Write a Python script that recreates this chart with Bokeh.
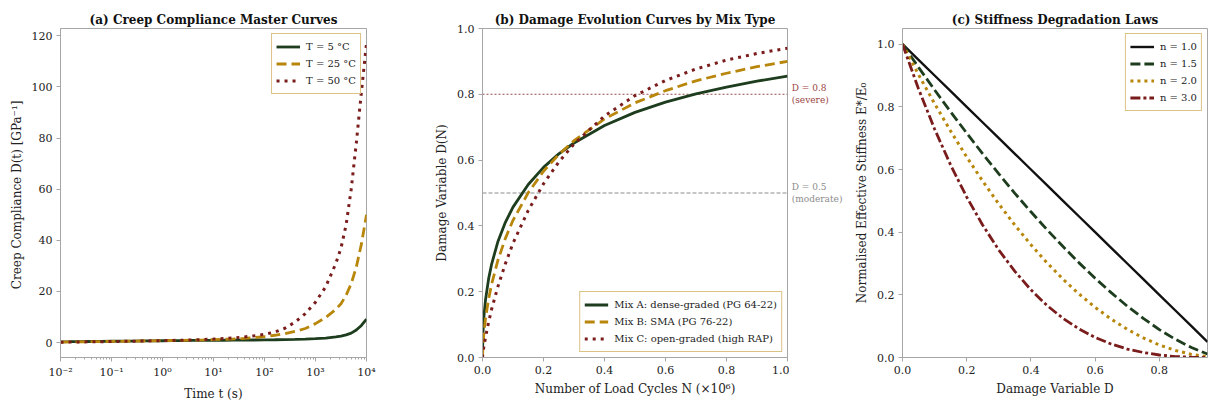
import numpy as np
from bokeh.plotting import figure
from bokeh.layouts import row
from bokeh.models import (FixedTicker, CustomJSTickFormatter, PrintfTickFormatter)
from bokeh.core.properties import value
from bokeh.embed import file_html
from bokeh.resources import INLINE

# ---------------- data ----------------
# (a) creep compliance master curves, time exponents (log10 t)
log_t = [-2.0, -1.8, -1.6, -1.4, -1.2, -1.0, -0.8, -0.6, -0.4, -0.2, 0.0, 0.2, 0.4, 0.6,
         0.8, 1.0, 1.2, 1.4, 1.6, 1.8, 2.0, 2.2, 2.4, 2.6, 2.8, 3.0, 3.2, 3.4, 3.5, 3.6,
         3.7, 3.8, 3.9, 4.0]
creep_T5 = [0.30, 0.33, 0.37, 0.41, 0.45, 0.50, 0.54, 0.58, 0.62, 0.66, 0.70, 0.74, 0.78, 0.81,
            0.84, 0.87, 0.90, 0.93, 0.96, 1.00, 1.04, 1.09, 1.15, 1.23, 1.34, 1.50, 1.75, 2.2, 2.5, 3.0,
            3.7, 4.9, 6.7, 9.2]
creep_T25 = [0.20, 0.24, 0.28, 0.33, 0.38, 0.43, 0.49, 0.55, 0.61, 0.67, 0.73, 0.80, 0.87, 0.95,
             1.04, 1.14, 1.27, 1.43, 1.65, 1.95, 2.35, 2.85, 3.5, 4.35, 5.5, 7.4, 9.8, 13.0, 15.2, 18.5,
             23.0, 29.5, 38.5, 50.0]
creep_T50 = [0.15, 0.19, 0.23, 0.28, 0.33, 0.39, 0.45, 0.52, 0.59, 0.67, 0.75, 0.84, 0.94, 1.05,
             1.18, 1.34, 1.55, 1.82, 2.2, 2.65, 3.2, 4.1, 5.6, 8.0, 11.3, 15.8, 21.8, 31.0, 37.0, 46.0,
             60.0, 78.0, 98.0, 117.0]
creep_labels = ["T = 5 °C", "T = 25 °C", "T = 50 °C"]
log_tick_vals = [0.01, 0.1, 1.0, 10.0, 100.0, 1000.0, 10000.0]
log_tick_labels = ["10⁻²", "10⁻¹", "10⁰", "10¹", "10²", "10³", "10⁴"]

# (b) damage evolution
cycles_N = [0, 0.001, 0.002, 0.005, 0.01, 0.02, 0.03, 0.05, 0.075, 0.1, 0.15, 0.2, 0.25,
            0.3, 0.4, 0.5, 0.6, 0.7, 0.8, 0.9, 1.0]
damage_A = [0, 0.059, 0.083, 0.128, 0.176, 0.239, 0.284, 0.351, 0.411, 0.457, 0.526, 0.578, 0.619,
            0.652, 0.705, 0.745, 0.776, 0.801, 0.822, 0.840, 0.855]
damage_B = [0, 0.029, 0.045, 0.078, 0.119, 0.178, 0.223, 0.294, 0.362, 0.417, 0.501, 0.566, 0.617,
            0.659, 0.725, 0.774, 0.811, 0.841, 0.864, 0.884, 0.900]
damage_C = [0, 0.010, 0.017, 0.036, 0.062, 0.107, 0.147, 0.214, 0.285, 0.347, 0.447, 0.528, 0.594,
            0.649, 0.734, 0.796, 0.842, 0.877, 0.904, 0.924, 0.940]
mix_labels = ["Mix A: dense-graded (PG 64-22)", "Mix B: SMA (PG 76-22)",
              "Mix C: open-graded (high RAP)"]
thresholds = [0.8, 0.5]
threshold_labels = [("D = 0.8", "(severe)"), ("D = 0.5", "(moderate)")]

# (c) stiffness degradation
dmg_D = [0.0, 0.05, 0.10, 0.15, 0.20, 0.25, 0.30, 0.35, 0.40, 0.45, 0.50, 0.55, 0.60, 0.65,
         0.70, 0.75, 0.80, 0.85, 0.90, 0.95]
stiff_n10 = [1.0, 0.95, 0.90, 0.85, 0.80, 0.75, 0.70, 0.65, 0.60, 0.55, 0.50, 0.45, 0.40, 0.35,
             0.30, 0.25, 0.20, 0.15, 0.10, 0.05]
stiff_n15 = [1.0, 0.926, 0.854, 0.784, 0.716, 0.650, 0.586, 0.524, 0.465, 0.408, 0.354, 0.302,
             0.253, 0.207, 0.164, 0.125, 0.089, 0.058, 0.032, 0.011]
stiff_n20 = [1.0, 0.9025, 0.81, 0.7225, 0.64, 0.5625, 0.49, 0.4225, 0.36, 0.3025, 0.25, 0.2025,
             0.16, 0.1225, 0.09, 0.0625, 0.04, 0.0225, 0.01, 0.0025]
stiff_n30 = [1.0, 0.857, 0.729, 0.614, 0.512, 0.422, 0.343, 0.275, 0.216, 0.166, 0.125, 0.091,
             0.064, 0.043, 0.027, 0.016, 0.008, 0.003, 0.001, 0.0001]
n_labels = ["n = 1.0", "n = 1.5", "n = 2.0", "n = 3.0"]

# ---------------- style ----------------
FONT = "DejaVu Serif"
GREEN = "#1e3d1e"
GOLD = "#b8860b"
MAROON = "#7a1c1c"
SPINE = "#a6a6a6"
TXT = "#222222"
H = 403
TOP = 28
BOTTOM = 46


def style(p):
    p.outline_line_color = SPINE
    p.outline_line_width = 1
    p.background_fill_color = "white"
    p.border_fill_color = "white"
    p.xgrid.visible = False
    p.ygrid.visible = False
    for ax in list(p.xaxis) + list(p.yaxis):
        ax.axis_line_color = SPINE
        ax.major_tick_line_color = SPINE
        ax.major_tick_out = 4
        ax.major_tick_in = 0
        ax.minor_tick_line_color = None
        ax.major_label_text_font = FONT
        ax.major_label_text_font_size = "11px"
        ax.major_label_text_color = TXT
        ax.axis_label_text_font = FONT
        ax.axis_label_text_font_size = "12px"
        ax.axis_label_text_font_style = "normal"
        ax.axis_label_text_color = TXT
        ax.major_label_standoff = 4
        ax.axis_label_standoff = 5
    p.title.text_font = FONT
    p.title.text_font_size = "12px"
    p.title.text_font_style = "bold"
    p.title.align = "center"
    p.title.text_color = "#111111"
    p.title.standoff = 4


def style_legend(p, loc):
    lg = p.legend[0]
    lg.location = loc
    lg.margin = 5
    lg.padding = 4
    lg.spacing = 0
    lg.glyph_width = 24
    lg.glyph_height = 17
    lg.label_height = 17
    lg.label_standoff = 6
    lg.label_text_font = FONT
    lg.label_text_font_size = "10px"
    lg.label_text_color = TXT
    lg.border_line_color = GOLD
    lg.border_line_width = 1
    lg.background_fill_color = "white"
    lg.background_fill_alpha = 0.9


# ---------------- (a) ----------------
t_vals = [10.0 ** e for e in log_t]
pa = figure(width=386, height=H, x_axis_type="log", x_range=(1e-2, 1e4), y_range=(-5.85, 122.85),
            output_backend="svg", toolbar_location=None,
            min_border_left=60, min_border_right=20, min_border_top=TOP, min_border_bottom=BOTTOM,
            title="(a) Creep Compliance Master Curves")
pa.line(t_vals, creep_T5, color=GREEN, line_width=2.8, legend_label=creep_labels[0])
pa.line(t_vals, creep_T25, color=GOLD, line_width=2.8, line_dash="10 5", legend_label=creep_labels[1])
pa.line(t_vals, creep_T50, color=MAROON, line_width=3, line_dash="3 5", legend_label=creep_labels[2])
style(pa)
pa.xaxis.ticker = FixedTicker(ticks=log_tick_vals,
                              minor_ticks=[m * 10.0 ** k for k in range(-2, 4) for m in range(2, 10)])
pa.xaxis.formatter = CustomJSTickFormatter(args=dict(vals=log_tick_vals, labs=log_tick_labels), code="""
const i = vals.findIndex(v => Math.abs(Math.log10(v) - Math.log10(tick)) < 1e-6);
return i >= 0 ? labs[i] : "";
""")
pa.xaxis.minor_tick_line_color = SPINE
pa.xaxis.minor_tick_out = 2
pa.xaxis.minor_tick_in = 0
pa.yaxis.ticker = FixedTicker(ticks=[0, 20, 40, 60, 80, 100, 120])
pa.xaxis.axis_label = "Time t (s)"
pa.yaxis.axis_label = "Creep Compliance D(t)  [GPa⁻¹]"
style_legend(pa, "top_right")

# ---------------- (b) ----------------
pb = figure(width=403, height=H, x_range=(0, 1.0), y_range=(0, 1.0),
            output_backend="svg", toolbar_location=None,
            min_border_left=96, min_border_right=2, min_border_top=TOP, min_border_bottom=BOTTOM,
            title="(b) Damage Evolution Curves by Mix Type")
pb.line([0, 1.0], [thresholds[0]] * 2, color="#8b3a3a", line_alpha=0.9, line_width=1.1, line_dash="2 2")
pb.line([0, 1.0], [thresholds[1]] * 2, color="#8c8c8c", line_width=1.2, line_dash="4 2")
pb.line(cycles_N, damage_A, color=GREEN, line_width=2.8, legend_label=mix_labels[0])
pb.line(cycles_N, damage_B, color=GOLD, line_width=2.8, line_dash="10 5", legend_label=mix_labels[1])
pb.line(cycles_N, damage_C, color=MAROON, line_width=3, line_dash="3 5", legend_label=mix_labels[2])
style(pb)
pb.xaxis.ticker = FixedTicker(ticks=[0, 0.2, 0.4, 0.6, 0.8, 1.0])
pb.yaxis.ticker = FixedTicker(ticks=[0, 0.2, 0.4, 0.6, 0.8, 1.0])
pb.xaxis.formatter = PrintfTickFormatter(format="%.1f")
pb.yaxis.formatter = PrintfTickFormatter(format="%.1f")
pb.xaxis.axis_label = "Number of Load Cycles N (×10⁶)"
pb.yaxis.axis_label = "Damage Variable D(N)"
style_legend(pb, "bottom_right")

# threshold annotations, in a narrow strip sharing panel (b)'s y scale
pn = figure(width=56, height=H, x_range=(0, 1), y_range=pb.y_range,
            x_axis_location=None, y_axis_location=None, output_backend="svg",
            toolbar_location=None, min_border_left=0, min_border_right=0,
            min_border_top=TOP, min_border_bottom=BOTTOM, outline_line_color=None)
pn.xgrid.visible = False
pn.ygrid.visible = False
ann_y, ann_text, ann_off, ann_col = [], [], [], []
for yv, (l1, l2), col in zip(thresholds, threshold_labels, ["#9a4545", "#8c8c8c"]):
    ann_y += [yv, yv]
    ann_text += [l1, l2]
    ann_off += [-6, 6]
    ann_col += [col, col]
pn.text(x=[0.04] * len(ann_y), y=ann_y, text=ann_text, y_offset=ann_off, text_color=ann_col,
        text_font=value(FONT), text_font_size="9px", text_baseline="middle", text_align="left")

# ---------------- (c) ----------------
pc = figure(width=363, height=H, x_range=(0, 0.95), y_range=(0, 1.05),
            output_backend="svg", toolbar_location=None,
            min_border_left=57, min_border_right=1, min_border_top=TOP, min_border_bottom=BOTTOM,
            title="(c) Stiffness Degradation Laws")
pc.line(dmg_D, stiff_n10, color="#111111", line_width=2.4, legend_label=n_labels[0])
pc.line(dmg_D, stiff_n15, color=GREEN, line_width=2.8, line_dash="10 4", legend_label=n_labels[1])
pc.line(dmg_D, stiff_n20, color=GOLD, line_width=3, line_dash="3 4", legend_label=n_labels[2])
pc.line(dmg_D, stiff_n30, color=MAROON, line_width=2.8, line_dash="10 3 3 3", legend_label=n_labels[3])
style(pc)
pc.xaxis.ticker = FixedTicker(ticks=[0, 0.2, 0.4, 0.6, 0.8])
pc.yaxis.ticker = FixedTicker(ticks=[0, 0.2, 0.4, 0.6, 0.8, 1.0])
pc.xaxis.formatter = PrintfTickFormatter(format="%.1f")
pc.yaxis.formatter = PrintfTickFormatter(format="%.1f")
pc.xaxis.axis_label = "Damage Variable D"
pc.yaxis.axis_label = "Normalised Effective Stiffness E*/E₀"
style_legend(pc, "top_right")

layout = row(pa, pb, pn, pc)
open("out.html", "w").write(file_html(layout, INLINE))
